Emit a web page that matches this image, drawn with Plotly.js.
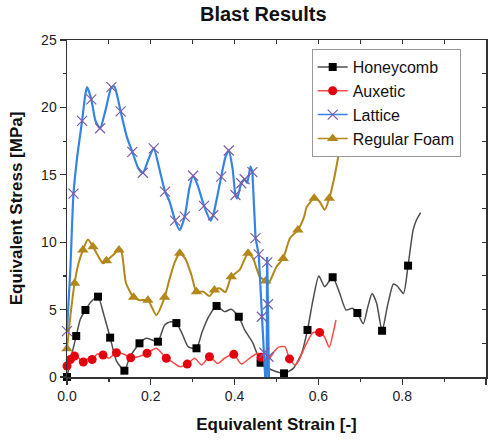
<!DOCTYPE html>
<html>
<head>
<meta charset="utf-8">
<script src="https://cdn.plot.ly/plotly-3.0.1.min.js"></script>
<style>html,body{margin:0;padding:0;background:#fff;}#chart{width:494px;height:441px;}</style>
</head>
<body>
<div id="chart"></div>
<script>
// ---- Data ----
const seriesNames = ['Honeycomb', 'Auxetic', 'Lattice', 'Regular Foam'];

const honeycombX = [0,0.010,0.022,0.032,0.044,0.058,0.074,0.088,0.103,0.118,0.137,0.150,0.163,0.173,0.189,0.203,0.217,0.233,0.247,0.261,0.275,0.289,0.309,0.322,0.336,0.357,0.376,0.392,0.410,0.424,0.444,0.462,0.478,0.495,0.518,0.540,0.560,0.574,0.587,0.601,0.615,0.634,0.651,0.666,0.681,0.693,0.707,0.718,0.728,0.739,0.752,0.765,0.779,0.788,0.803,0.814,0.826,0.834,0.844];
const honeycombY = [0,1.5,3.04,4.3,4.97,5.6,5.96,4.6,2.92,1.2,0.47,1.5,2.1,2.5,2.87,2.75,2.62,3.86,4.1,4.0,3.2,2.25,2.13,3.3,4.35,5.27,4.85,5.02,4.47,3.49,2.5,1.06,0.7,0.45,0.27,0.64,1.76,3.49,5.7,7.5,6.7,7.4,6.2,4.97,5.1,4.75,3.95,5.2,6.2,5.47,3.43,5.3,6.9,6.75,6.2,8.26,10.9,11.65,12.2];
const honeycombMarkX = [0,0.022,0.044,0.074,0.103,0.137,0.173,0.217,0.261,0.309,0.357,0.410,0.462,0.518,0.574,0.634,0.693,0.752,0.814];
const honeycombMarkY = [0,3.04,4.97,5.96,2.92,0.47,2.5,2.62,4.0,2.13,5.27,4.47,1.06,0.27,3.49,7.4,4.75,3.43,8.26];

const auxeticX = [0,0.008,0.018,0.028,0.039,0.050,0.060,0.072,0.086,0.100,0.118,0.135,0.152,0.170,0.191,0.213,0.225,0.237,0.252,0.269,0.287,0.305,0.321,0.340,0.360,0.376,0.398,0.416,0.440,0.456,0.463,0.478,0.496,0.504,0.520,0.531,0.544,0.553,0.568,0.587,0.603,0.614,0.626,0.635,0.642];
const auxeticY = [0.82,1.3,1.56,1.4,1.11,1.35,1.3,1.7,1.63,1.4,1.8,1.7,1.43,1.5,1.76,2.13,1.8,1.39,1.1,0.77,0.96,1.39,0.89,1.5,1.0,1.39,1.68,0.96,1.5,1.76,1.46,1.2,1.95,2.2,2.25,1.34,0.89,1.2,2.25,3.3,3.31,3.0,2.2,3.24,4.23];
const auxeticMarkX = [0,0.008,0.018,0.039,0.060,0.086,0.118,0.152,0.191,0.237,0.287,0.340,0.398,0.463,0.531,0.603];
const auxeticMarkY = [0.82,1.3,1.56,1.11,1.3,1.63,1.8,1.43,1.76,1.39,0.96,1.5,1.68,1.46,1.34,3.31];

const latticeX = [0,0.008,0.0155,0.025,0.036,0.044,0.048,0.058,0.068,0.079,0.092,0.106,0.113,0.128,0.143,0.156,0.170,0.181,0.195,0.207,0.220,0.234,0.245,0.258,0.269,0.281,0.292,0.301,0.312,0.327,0.343,0.349,0.358,0.368,0.378,0.386,0.395,0.402,0.406,0.416,0.424,0.430,0.438,0.4425,0.450,0.4576,0.465,0.471,0.473,0.4765,0.4775,0.478,0.4795,0.481,0.482];
const latticeY = [3.4,8,13.6,16.5,19.0,21.0,21.5,20.6,19.0,18.45,19.8,21.5,21.55,19.7,17.8,16.7,15.5,15.15,16.2,16.96,15.5,13.75,13.0,11.6,10.9,11.9,14.0,14.93,14.2,12.7,11.6,12.0,13.3,14.86,16.3,16.8,15.5,13.5,13.25,14.37,14.67,14.4,15.6,15.2,10.3,9.1,4.47,1.8,0,0,8.9,8.5,5.4,1.5,0];
const latticeMarkX = [0,0.0155,0.036,0.058,0.079,0.106,0.128,0.156,0.181,0.207,0.234,0.258,0.281,0.301,0.327,0.349,0.368,0.386,0.402,0.416,0.424,0.4425,0.450,0.4576,0.465,0.471,0.478,0.4795,0.481];
const latticeMarkY = [3.4,13.6,19.0,20.6,18.45,21.5,19.7,16.7,15.15,16.96,13.75,11.6,11.9,14.93,12.7,12.0,14.86,16.8,13.5,14.37,14.67,15.2,10.3,9.1,4.47,1.8,8.5,5.4,1.5];

const foamX = [0,0.008,0.018,0.028,0.038,0.050,0.062,0.072,0.086,0.094,0.108,0.124,0.130,0.141,0.159,0.173,0.193,0.213,0.233,0.245,0.257,0.269,0.282,0.297,0.309,0.325,0.340,0.352,0.364,0.378,0.392,0.412,0.432,0.444,0.460,0.474,0.480,0.500,0.516,0.532,0.551,0.565,0.572,0.590,0.603,0.615,0.626,0.638,0.651];
const foamY = [2.1,4.5,6.95,8.5,9.42,10.2,9.67,9.1,8.43,8.63,9.0,9.42,9.3,6.95,5.91,5.7,5.7,4.6,5.91,7.3,8.5,9.18,8.8,7.57,6.33,6.33,6.0,6.45,6.58,6.3,7.44,7.94,9.18,8.8,7.44,7.12,6.9,8.18,8.8,10.3,10.9,11.8,12.6,13.26,13.0,12.4,13.26,14.8,16.97];
const foamMarkX = [0,0.018,0.038,0.062,0.094,0.124,0.159,0.193,0.233,0.269,0.309,0.352,0.392,0.432,0.474,0.516,0.551,0.590,0.626];
const foamMarkY = [2.1,6.95,9.42,9.67,8.63,9.42,5.91,5.7,5.91,9.18,6.33,6.45,7.44,9.18,7.12,8.8,10.9,13.26,13.26];

// ---- Styles ----
const FONT = 'Liberation Sans, Arial, sans-serif';
const styles = {
  'Honeycomb':   {line: {color: '#4d4d4d', width: 1.5}, marker: {symbol: 'square', color: '#000000', size: 8}},
  'Auxetic':     {line: {color: '#ff4a4a', width: 1.5}, marker: {symbol: 'circle', color: '#e3000f', size: 9}},
  'Lattice':     {line: {color: '#3584e4', width: 2.2}, marker: {symbol: 'x-thin', color: '#7d5ca8', size: 10, line: {color: '#7d5ca8', width: 1.2}}},
  'Regular Foam':{line: {color: '#b3871a', width: 2}, marker: {symbol: 'triangle-up', color: '#b3871a', size: 10}}
};

function lineTrace(name, x, y, shape) {
  return {x: x, y: y, mode: 'lines', type: 'scatter', showlegend: false, hoverinfo: 'skip',
          line: Object.assign({shape: shape || 'spline', smoothing: 0.6}, styles[name].line)};
}
function markTrace(name, x, y) {
  return {x: x, y: y, mode: 'markers', type: 'scatter', showlegend: false, hoverinfo: 'skip',
          cliponaxis: false, marker: styles[name].marker};
}
function legendTrace(name) {
  return {x: [null], y: [null], mode: 'lines+markers', type: 'scatter', name: name,
          line: Object.assign({}, styles[name].line, {width: 1.5}), marker: styles[name].marker};
}

// split lattice into smooth body and steep linear tail
const cut = latticeX.indexOf(0.4425);
const traces = [
  lineTrace('Honeycomb', honeycombX, honeycombY),
  markTrace('Honeycomb', honeycombMarkX, honeycombMarkY),
  lineTrace('Auxetic', auxeticX, auxeticY),
  markTrace('Auxetic', auxeticMarkX, auxeticMarkY),
  lineTrace('Regular Foam', foamX, foamY),
  markTrace('Regular Foam', foamMarkX, foamMarkY),
  lineTrace('Lattice', latticeX.slice(0, cut + 1), latticeY.slice(0, cut + 1)),
  lineTrace('Lattice', latticeX.slice(cut), latticeY.slice(cut), 'linear'),
  markTrace('Lattice', latticeMarkX, latticeMarkY),
  {x: [null], y: [null], xaxis: 'x2', yaxis: 'y2', type: 'scatter', mode: 'lines', showlegend: false, hoverinfo: 'skip'}
];
seriesNames.forEach(n => traces.push(legendTrace(n)));

const axisCommon = {
  showgrid: false, zeroline: false, showline: true, linecolor: '#333', linewidth: 1.5, mirror: true,
  ticks: 'outside', ticklen: 6, tickwidth: 1.2, tickcolor: '#333',
  tickfont: {family: FONT, size: 14, color: '#222'}
};

const layout = {
  width: 494, height: 441,
  margin: {l: 67, r: 8, t: 40, b: 64},
  paper_bgcolor: '#fff', plot_bgcolor: '#fff',
  font: {family: FONT, color: '#111'},
  title: {text: '<b>Blast Results</b>', font: {family: FONT, size: 20, color: '#111'},
          xref: 'container', x: 0.533, xanchor: 'center', yref: 'container', y: 0.968, yanchor: 'middle'},
  xaxis: Object.assign({}, axisCommon, {
    range: [0, 1], tick0: 0, dtick: 0.2, tickformat: '.1f',
    minor: {dtick: 0.1, ticks: 'outside', ticklen: 3, tickcolor: '#333', showgrid: false},
    title: {text: '<b>Equivalent Strain [-]</b>', font: {family: FONT, size: 17, color: '#111'}, standoff: 15}
  }),
  yaxis: Object.assign({}, axisCommon, {
    range: [0, 25], tick0: 0, dtick: 5,
    minor: {dtick: 2.5, ticks: 'outside', ticklen: 3, tickcolor: '#333', showgrid: false},
    title: {text: '<b>Equivalent Stress [MPa]</b>', font: {family: FONT, size: 17, color: '#111'}, standoff: 14}
  }),
  xaxis2: {overlaying: 'x', anchor: 'y2', side: 'top', range: [0, 1], tick0: 0, dtick: 0.1,
           ticks: 'inside', ticklen: 4, tickcolor: '#333', showticklabels: false, showgrid: false, zeroline: false, showline: false},
  yaxis2: {overlaying: 'y', anchor: 'x2', side: 'right', range: [0, 25], tick0: 0, dtick: 2.5,
           ticks: 'inside', ticklen: 4, tickcolor: '#333', showticklabels: false, showgrid: false, zeroline: false, showline: false},
  legend: {x: 0.584, y: 0.973, xanchor: 'left', yanchor: 'top',
           bgcolor: '#fff', bordercolor: '#999', borderwidth: 1,
           font: {family: FONT, size: 16, color: '#111'}, tracegroupgap: 0}
};

Plotly.newPlot('chart', traces, layout, {displayModeBar: false, staticPlot: true});
</script>
</body>
</html>
